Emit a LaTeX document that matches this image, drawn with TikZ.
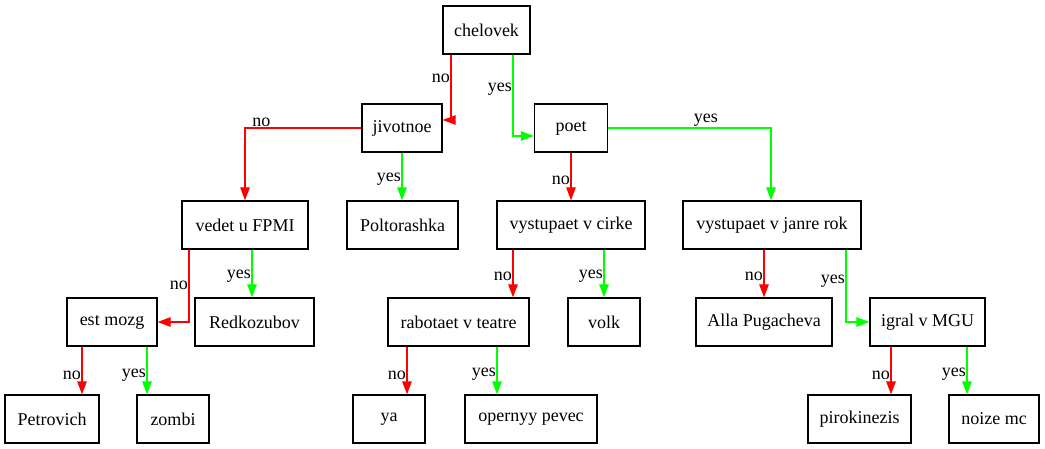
\documentclass[tikz,border=0pt]{standalone}
\usepackage{fontspec}
\setmainfont{Liberation Serif}
\usetikzlibrary{arrows.meta,calc}
\begin{document}
\begin{tikzpicture}[x=1pt,y=-1pt,
  box/.style={draw=black,line width=1.3pt,minimum height=48pt,inner sep=0pt,font=\fontsize{18}{21}\selectfont},
  noedge/.style={draw=red,line width=1.3pt,-{Triangle[length=13pt,width=9.5pt]}},
  yesedge/.style={draw=green,line width=1.3pt,-{Triangle[length=13pt,width=9.5pt]}},
  lbl/.style={font=\fontsize{18}{21}\selectfont,inner sep=0.5pt,text=black}]
\useasboundingbox (0,0) rectangle (1045,449);
% nodes
\node[box,minimum width=87pt] (chelovek) at (486.5,30) {chelovek};
\node[box,minimum width=80pt] (jivotnoe) at (402,128) {jivotnoe};
\node[box,minimum width=73pt] (poet) at (571,128) {poet};
\node[box,minimum width=126pt] (vedet) at (245,225) {vedet u FPMI};
\node[box,minimum width=111pt] (poltorashka) at (402.5,225) {Poltorashka};
\node[box,minimum width=148pt] (cirke) at (571,225) {vystupaet v cirke};
\node[box,minimum width=178pt] (rok) at (772,225) {vystupaet v janre rok};
\node[box,minimum width=90pt] (mozg) at (112,322) {est mozg};
\node[box,minimum width=119pt] (redkozubov) at (254.5,322) {Redkozubov};
\node[box,minimum width=141pt] (teatr) at (458.5,322) {rabotaet v teatre};
\node[box,minimum width=72pt] (volk) at (604,322) {volk};
\node[box,minimum width=136pt] (alla) at (764,322) {Alla Pugacheva};
\node[box,minimum width=115pt] (mgu) at (927.5,322) {igral v MGU};
\node[box,minimum width=94pt] (petrovich) at (52,419) {Petrovich};
\node[box,minimum width=72pt] (zombi) at (173,419) {zombi};
\node[box,minimum width=72pt] (ya) at (389,419) {ya};
\node[box,minimum width=132pt] (opernyy) at (531,419) {opernyy pevec};
\node[box,minimum width=103pt] (piro) at (859.5,419) {pirokinezis};
\node[box,minimum width=90pt] (noize) at (994,419) {noize mc};
% edges
\draw[noedge] ([xshift=-35.5pt]chelovek.south) |- node[lbl,pos=0.18,anchor=east]{no} ([yshift=8pt]jivotnoe.east);
\draw[yesedge] ([xshift=26.5pt]chelovek.south) |- node[lbl,pos=0.21,anchor=east]{yes} ([yshift=-8pt]poet.west);
\draw[noedge] (jivotnoe.west) -| node[lbl,pos=0.43,anchor=south]{no} (vedet.north);
\draw[yesedge] (jivotnoe.south) -- node[lbl,pos=0.55,anchor=east]{yes} (jivotnoe.south |- poltorashka.north);
\draw[noedge] (poet.south) -- node[lbl,pos=0.58,anchor=east]{no} (poet.south |- cirke.north);
\draw[yesedge] (poet.east) -| node[lbl,pos=0.3,anchor=south]{yes} ([xshift=-1pt]rok.north);
\draw[noedge] ([xshift=-56pt]vedet.south) |- node[lbl,pos=0.25,anchor=east]{no} (mozg.east);
\draw[yesedge] ([xshift=7pt]vedet.south) coordinate (v1) -- node[lbl,pos=0.55,anchor=east]{yes} (v1 |- redkozubov.north);
\draw[noedge] ([xshift=-30pt]mozg.south) coordinate (m1) -- node[lbl,pos=0.6,anchor=east]{no} (m1 |- petrovich.north);
\draw[yesedge] ([xshift=35pt]mozg.south) coordinate (m2) -- node[lbl,pos=0.6,anchor=east]{yes} (m2 |- zombi.north);
\draw[noedge] ([xshift=-58pt]cirke.south) coordinate (c1) -- node[lbl,pos=0.55,anchor=east]{no} (c1 |- teatr.north);
\draw[yesedge] ([xshift=33pt]cirke.south) coordinate (c2) -- node[lbl,pos=0.55,anchor=east]{yes} (c2 |- volk.north);
\draw[noedge] ([xshift=-51.5pt]teatr.south) coordinate (t1) -- node[lbl,pos=0.6,anchor=east]{no} (t1 |- ya.north);
\draw[yesedge] ([xshift=38.5pt]teatr.south) coordinate (t2) -- node[lbl,pos=0.58,anchor=east]{yes} (t2 |- opernyy.north);
\draw[noedge] ([xshift=-8pt]rok.south) coordinate (r1) -- node[lbl,pos=0.55,anchor=east]{no} (r1 |- alla.north);
\draw[yesedge] ([xshift=74pt]rok.south) |- node[lbl,pos=0.22,anchor=east]{yes} (mgu.west);
\draw[noedge] ([xshift=-36.5pt]mgu.south) coordinate (g1) -- node[lbl,pos=0.6,anchor=east]{no} (g1 |- piro.north);
\draw[yesedge] ([xshift=39.5pt]mgu.south) coordinate (g2) -- node[lbl,pos=0.58,anchor=east]{yes} (g2 |- noize.north);
\end{tikzpicture}
\end{document}
